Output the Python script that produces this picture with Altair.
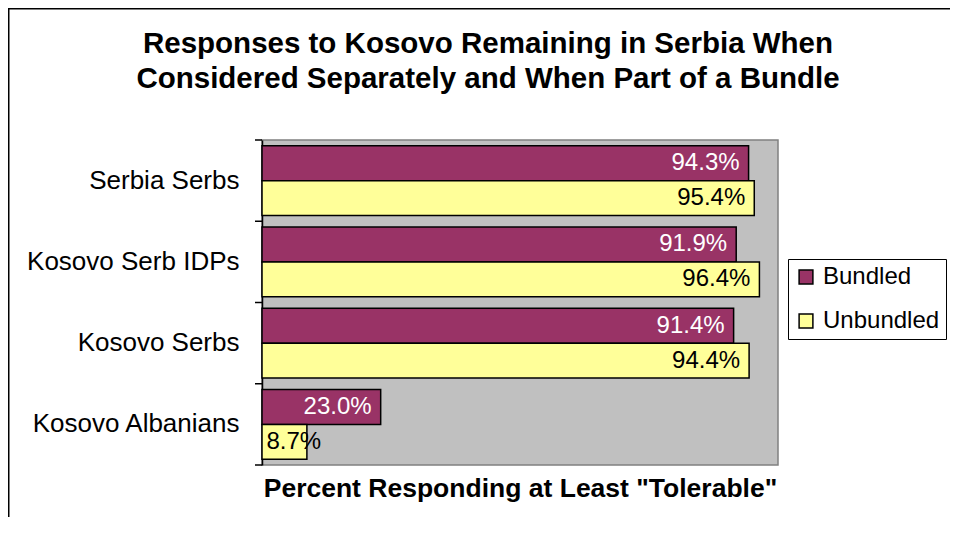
import altair as alt
import pandas as pd

groups = ["Serbia Serbs", "Kosovo Serb IDPs", "Kosovo Serbs", "Kosovo Albanians"]
series = ["Bundled", "Unbundled"]
bundled = [94.3, 91.9, 91.4, 23.0]
unbundled = [95.4, 96.4, 94.4, 8.7]
colors = ["#993366", "#FFFF99"]
boundaries = [0, 1, 2, 3, 4]

rows = []
for g, b, u in zip(groups, bundled, unbundled):
    rows.append({"group": g, "series": "Bundled", "value": b})
    rows.append({"group": g, "series": "Unbundled", "value": u})
df = pd.DataFrame(rows)

FONT = "Liberation Sans"
W, H = 516, 325
PL, PT, PR, PB = 254, 132, 172, 52

y_enc = alt.Y("group:N", sort=groups,
              scale=alt.Scale(paddingInner=0.14, paddingOuter=0.07),
              axis=alt.Axis(title=None, ticks=False, domain=True, domainColor="black",
                            domainWidth=1.5, labelFontSize=26, labelFont=FONT,
                            labelColor="black", labelPadding=23, labelLimit=300))
yoff = alt.YOffset("series:N", sort=series, scale=alt.Scale(paddingInner=0, paddingOuter=0))
x_enc = alt.X("value:Q", scale=alt.Scale(domain=[0, 100]),
              axis=alt.Axis(title='Percent Responding at Least "Tolerable"', labels=False,
                            ticks=False, domain=False, grid=False, titleFontSize=26.5,
                            titleFont=FONT, titleFontWeight="bold", titleColor="black",
                            titlePadding=10))

base = alt.Chart(df)

bars = base.mark_bar(stroke="black", strokeWidth=1.5).encode(
    x=x_enc,
    y=y_enc,
    yOffset=yoff,
    color=alt.Color("series:N", sort=series,
                    scale=alt.Scale(domain=series, range=colors),
                    legend=alt.Legend(title=None, orient="none", legendX=526, legendY=119,
                                      symbolType="square", symbolSize=190,
                                      symbolStrokeColor="black", symbolStrokeWidth=1.5,
                                      labelFontSize=24, labelFont=FONT, labelColor="black",
                                      rowPadding=20, padding=6, strokeColor="black",
                                      fillColor="white", labelOffset=5)),
)

labels = base.transform_calculate(
    label="format(datum.value, '.1f') + '%'",
    pos="max(datum.value, 13.2)",
).mark_text(align="right", baseline="middle", dx=-9, fontSize=24, font=FONT).encode(
    x=alt.X("pos:Q"),
    y=alt.Y("group:N", sort=groups),
    yOffset=alt.YOffset("series:N", sort=series),
    text="label:N",
    color=alt.condition("datum.series == 'Bundled'", alt.value("white"), alt.value("black")),
)

ticks = alt.Chart(pd.DataFrame({"pos": boundaries})).mark_rule(
    color="black", strokeWidth=1.5
).encode(
    y=alt.Y("pos:Q", scale=alt.Scale(domain=[0, 4]), axis=None),
    x=alt.value(-7),
    x2=alt.value(0),
)

frame_src = alt.Chart(pd.DataFrame({"k": [0]}))
frame_left = frame_src.mark_rule(color="black", strokeWidth=1.5).encode(
    x=alt.value(-PL + 0.75), y=alt.value(-PT + 0.75), y2=alt.value(H + PB))
frame_top = frame_src.mark_rule(color="black", strokeWidth=1.5).encode(
    x=alt.value(-PL), x2=alt.value(W + PR), y=alt.value(-PT + 0.75))

main = alt.layer(bars, labels).resolve_scale(y="shared")

chart = alt.layer(main, ticks, frame_left, frame_top).resolve_scale(y="independent").properties(
    width=W,
    height=H,
    title=alt.TitleParams(
        text=["Responses to Kosovo Remaining in Serbia When",
              "Considered Separately and When Part of a Bundle"],
        fontSize=29.5, font=FONT, fontWeight="bold", color="black",
        anchor="middle", dx=-32, offset=-86, lineHeight=35,
    ),
    autosize=alt.AutoSizeParams(type="none"),
    padding={"left": PL, "top": PT, "right": PR, "bottom": PB},
).configure(background="white").configure_view(
    fill="#C0C0C0", stroke="#808080", strokeWidth=1.5
)

chart.save("out.html", embed_options={"renderer": "svg", "actions": False})
